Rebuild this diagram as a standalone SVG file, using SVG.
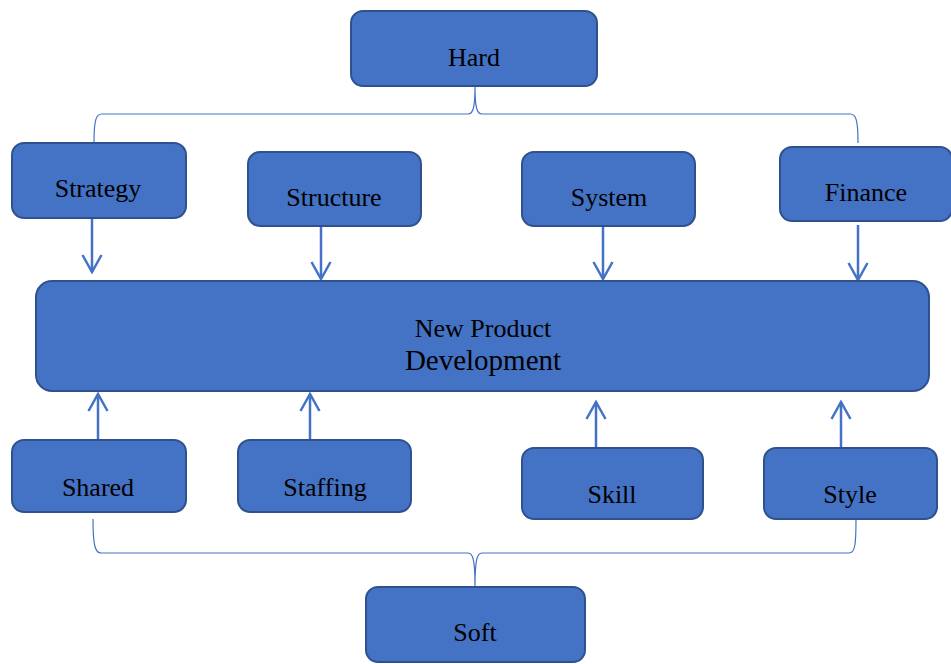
<svg xmlns="http://www.w3.org/2000/svg" width="951" height="664" viewBox="0 0 951 664">
<style>
.box{fill:#4472C4;stroke:#2F528F;stroke-width:2}
.t{font-family:"Liberation Serif","Times New Roman",serif;font-size:26px;fill:#000;text-anchor:middle}
.arr{stroke:#4472C4;stroke-width:2.5;fill:none;marker-end:url(#ah)}
.br{stroke:#4472C4;stroke-width:1.2;fill:none}
</style>
<defs>
<marker id="ah" viewBox="0 0 20 22" refX="18" refY="11" markerWidth="20" markerHeight="22" markerUnits="userSpaceOnUse" orient="auto">
<polyline points="1,1.5 18,11 1,20.5" fill="none" stroke="#4472C4" stroke-width="2.5"/>
</marker>
</defs>
<rect width="951" height="664" fill="#fff"/>
<g id="connectors">
<path class="br" d="M94,143 C94,120 96,114 102,114 L468,114 C473,114 475,108 475,86 C475,108 477,114 482,114 L850,114 C856,114 858,120 858,143"/>
<path class="br" d="M93,519 C93,545 95,553 101,553 L468,553 C473,553 475,560 475,587 C475,560 477,553 482,553 L849,553 C855,553 856,545 856,519"/>
<line class="arr" x1="92" y1="218" x2="92" y2="272"/>
<line class="arr" x1="321" y1="226" x2="321" y2="279"/>
<line class="arr" x1="603" y1="226" x2="603" y2="279"/>
<line class="arr" x1="858" y1="225" x2="858" y2="280"/>
<line class="arr" x1="98" y1="440" x2="98" y2="394"/>
<line class="arr" x1="310" y1="440" x2="310" y2="394"/>
<line class="arr" x1="596" y1="448" x2="596" y2="402"/>
<line class="arr" x1="841" y1="448" x2="841" y2="402"/>
</g>
<g id="hard"><rect class="box" x="351" y="11" width="246" height="75" rx="12"/><text class="t" x="474" y="66">Hard</text></g>
<g id="strategy"><rect class="box" x="12" y="143" width="174" height="75" rx="12"/><text class="t" x="98" y="197">Strategy</text></g>
<g id="structure"><rect class="box" x="248" y="152" width="173" height="74" rx="12"/><text class="t" x="334" y="206">Structure</text></g>
<g id="system"><rect class="box" x="522" y="152" width="173" height="74" rx="12"/><text class="t" x="609" y="206">System</text></g>
<g id="finance"><rect class="box" x="780" y="147" width="172" height="74" rx="12"/><text class="t" x="866" y="201">Finance</text></g>
<g id="npd"><rect class="box" x="36" y="281" width="893" height="110" rx="16"/><text class="t" x="483" y="337">New Product</text><text class="t" x="483" y="370" style="font-size:29px">Development</text></g>
<g id="shared"><rect class="box" x="12" y="440" width="174" height="72" rx="12"/><text class="t" x="98" y="496">Shared</text></g>
<g id="staffing"><rect class="box" x="238" y="440" width="173" height="72" rx="12"/><text class="t" x="325" y="496">Staffing</text></g>
<g id="skill"><rect class="box" x="522" y="448" width="181" height="71" rx="12"/><text class="t" x="612" y="503">Skill</text></g>
<g id="style"><rect class="box" x="764" y="448" width="173" height="71" rx="12"/><text class="t" x="850" y="503">Style</text></g>
<g id="soft"><rect class="box" x="366" y="587" width="219" height="75" rx="12"/><text class="t" x="475" y="641">Soft</text></g>
</svg>
